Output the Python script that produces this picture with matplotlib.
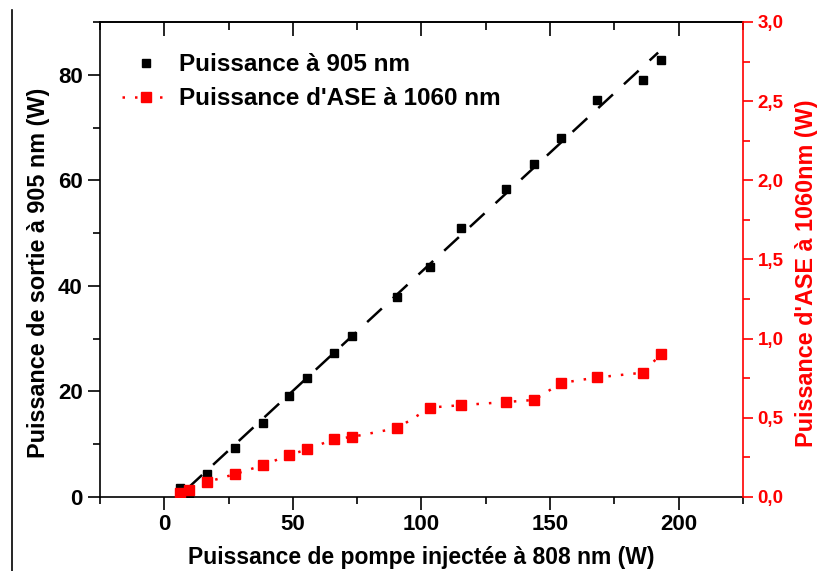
import matplotlib
matplotlib.use("Agg")
import matplotlib.pyplot as plt
from matplotlib.ticker import MultipleLocator, FuncFormatter
from matplotlib.lines import Line2D

plt.rcParams['font.family'] = ['Liberation Sans', 'DejaVu Sans']
plt.rcParams['font.weight'] = 'bold'

# Data
pump = [6.2, 9.7, 16.7, 27.6, 38.2, 48.6, 55.4, 66.0, 73.1, 90.6,
        103.5, 115.4, 133.0, 143.8, 154.3, 168.2, 186.0, 193.0]
p905 = [1.7, 0.3, 4.4, 9.3, 14.0, 19.2, 22.6, 27.3, 30.5, 37.9,
        43.6, 51.0, 58.4, 63.1, 68.1, 75.3, 79.0, 82.8]
pase = [0.025, 0.045, 0.095, 0.145, 0.20, 0.265, 0.30, 0.365, 0.38, 0.435,
        0.565, 0.58, 0.60, 0.613, 0.72, 0.755, 0.785, 0.90]
fit_x = [9.0, 192.0]
fit_y = [1.6, 84.2]

fig = plt.figure(figsize=(8.18, 5.71), dpi=100)
ax = fig.add_axes([0.1222, 0.1296, 0.9083 - 0.1222, 0.9615 - 0.1296])
ax2 = ax.twinx()

ax.plot(fit_x, fit_y, color='black', lw=1.8, ls=(0, (8, 6)), zorder=2)
ax.plot(pump, p905, ls='none', marker='s', ms=6.2, color='black', zorder=3)
ax2.plot(pump, pase, ls=(0, (1, 4)), lw=1.8, marker='s', ms=6.8, color='#ff0000', zorder=3)

ax.set_xlim(-25, 225)
ax.set_ylim(0, 90)
ax2.set_ylim(0, 3)

ax.xaxis.set_major_locator(MultipleLocator(50))
ax.xaxis.set_minor_locator(MultipleLocator(25))
ax.yaxis.set_major_locator(MultipleLocator(20))
ax.yaxis.set_minor_locator(MultipleLocator(10))
ax2.yaxis.set_major_locator(MultipleLocator(0.5))
ax2.yaxis.set_minor_locator(MultipleLocator(0.25))
ax2.yaxis.set_major_formatter(FuncFormatter(lambda v, p: f"{v:.1f}".replace('.', ',')))

ax.tick_params(axis='x', which='both', direction='out', top=False, labelsize=16, width=1.2)
ax.tick_params(axis='x', which='major', length=9)
ax.tick_params(axis='x', which='minor', length=5)
ax.tick_params(axis='y', which='both', direction='out', labelsize=16, width=1.2)
ax.tick_params(axis='y', which='major', length=9)
ax.tick_params(axis='y', which='minor', length=5)

# top ticks inward
sec = ax.secondary_xaxis('top')
sec.xaxis.set_major_locator(MultipleLocator(50))
sec.xaxis.set_minor_locator(MultipleLocator(25))
sec.tick_params(axis='x', which='both', direction='in', labeltop=False, width=1.2)
sec.tick_params(axis='x', which='major', length=10)
sec.tick_params(axis='x', which='minor', length=6)
sec.spines['top'].set_linewidth(1.2)

ax2.tick_params(axis='y', which='both', direction='out', colors='#ff0000', labelsize=13.5, width=1.2)
ax2.tick_params(axis='y', which='major', length=7)
ax2.tick_params(axis='y', which='minor', length=5)
ax2.spines['right'].set_color('#ff0000')
ax2.spines['right'].set_linewidth(1.2)
for s in ['left', 'bottom', 'top']:
    ax.spines[s].set_linewidth(1.2)
ax.spines['right'].set_visible(False)
ax2.spines['left'].set_visible(False)
ax2.spines['top'].set_visible(False)
ax2.spines['bottom'].set_visible(False)

for lab in ax2.get_yticklabels():
    lab.set_fontweight('bold')

ax.set_xlabel("Puissance de pompe injectée à 808 nm (W)", fontsize=16.5, fontweight='bold', labelpad=8)
ax.set_ylabel("Puissance de sortie à 905 nm (W)", fontsize=16.8, fontweight='bold', labelpad=6)
ax2.set_ylabel("Puissance d'ASE à 1060nm (W)", fontsize=16.8, fontweight='bold', color='#ff0000', labelpad=8)
ax.yaxis.label.set_y(0.472)
ax2.yaxis.label.set_y(0.472)

handles = [
    Line2D([], [], ls='none', marker='s', ms=6.2, color='black'),
    Line2D([], [], ls=(0, (1, 4)), lw=1.8, marker='s', ms=6.8, color='#ff0000'),
]
ax.legend(handles, ["Puissance à 905 nm", "Puissance d'ASE à 1060 nm"],
          loc='upper left', bbox_to_anchor=(0.0, 0.98), frameon=False,
          prop={'size': 17.5, 'weight': 'bold'}, handlelength=2.0, handletextpad=0.35,
          labelspacing=0.45, borderaxespad=0.5)

fig.add_artist(Line2D([12 / 818, 12 / 818], [0, 1 - 10 / 571], transform=fig.transFigure,
                      color='black', lw=1.2))

fig.savefig("out.png", dpi=100)
